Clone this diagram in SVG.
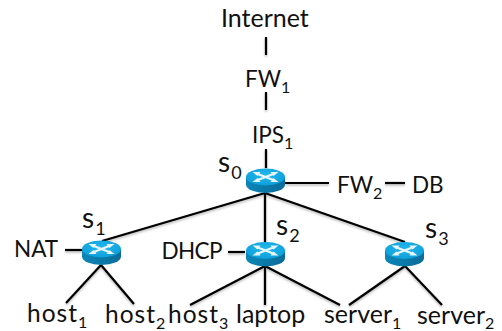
<svg xmlns="http://www.w3.org/2000/svg" width="502" height="331" viewBox="0 0 502 331">
<style>
text{font-family:Lato,"Open Sans",sans-serif;font-size:25px;fill:#111}
.sub{font-size:16px;letter-spacing:0}
.cap{font-size:22.500px}
.dh{font-size:22.500px;letter-spacing:-.6px}
.host{font-size:24.500px;letter-spacing:1px}
.sw{font-size:28px}
.swsub{font-size:18px}
#connectors line{stroke:#000;stroke-width:2.2;stroke-linecap:butt}
</style>
<defs>
<filter id="sh" x="-20%" y="-20%" width="140%" height="140%"><feDropShadow dx="0" dy="1.5" stdDeviation="1" flood-color="#000" flood-opacity="0.3"/></filter>
<linearGradient id="side" x1="0" x2="1" y1="0" y2="0"><stop offset="0" stop-color="#0a86b8"/><stop offset="0.5" stop-color="#0b79a8"/><stop offset="1" stop-color="#0a6c9a"/></linearGradient>
<radialGradient id="top" cx="0.5" cy="0.4" r="0.7"><stop offset="0" stop-color="#22b8ee"/><stop offset="1" stop-color="#0a9ad6"/></radialGradient>
<g id="router">
<path d="M-19.500 -4V3.500A19.500 8.500 0 0 0 19.500 3.500V-4Z" fill="url(#side)"/>
<ellipse cx="0" cy="-4" rx="19.500" ry="8.500" fill="url(#top)"/>
<path d="M-9 -7.500L9 -0.500M9 -7.500L-9 -0.500" stroke="#e8f6fc" stroke-width="2.200" fill="none"/>
<path d="M-13 -9L-5 -9L-8 -5Z M13 1L5 1L8 -3Z M13 -9L5 -9L8 -5Z M-13 1L-5 1L-8 -3Z" fill="#e8f6fc"/>
</g>
</defs>
<g id="connectors" filter="url(#sh)">
<line x1="266" y1="37" x2="266" y2="55"/>
<line x1="266" y1="92" x2="266" y2="110"/>
<line x1="266" y1="149" x2="266" y2="168"/>
<line x1="285" y1="183" x2="329" y2="183"/>
<line x1="385" y1="183" x2="405" y2="183"/>
<line x1="265" y1="193" x2="102" y2="241"/>
<line x1="265" y1="193" x2="265" y2="243"/>
<line x1="265" y1="193" x2="405" y2="242"/>
<line x1="65" y1="250" x2="82" y2="250"/>
<line x1="228" y1="252" x2="245" y2="252"/>
<line x1="101" y1="265" x2="66" y2="303"/>
<line x1="101" y1="265" x2="134" y2="304"/>
<line x1="265" y1="266" x2="190" y2="305"/>
<line x1="265" y1="266" x2="265" y2="305"/>
<line x1="265" y1="266" x2="340" y2="305"/>
<line x1="405" y1="266" x2="349" y2="305"/>
<line x1="405" y1="266" x2="442" y2="305"/>
</g>
<g id="internet"><text x="221" y="27">Internet</text></g>
<g id="fw1"><text x="245" y="87" class="cap">FW<tspan class="sub" dy="6">1</tspan></text></g>
<g id="ips1"><text x="252" y="143" class="cap">IPS<tspan class="sub" dy="6">1</tspan></text></g>
<g id="fw2"><text x="337" y="193" class="cap">FW<tspan class="sub" dy="6">2</tspan></text></g>
<g id="db"><text x="412" y="193" class="cap">DB</text></g>
<g id="s0"><use href="#router" x="265.500" y="181"/><text x="218" y="172" class="sw">s<tspan class="swsub" dx="1" dy="7">0</tspan></text></g>
<g id="s1"><use href="#router" x="101.500" y="253"/><text x="82" y="228" class="sw">s<tspan class="swsub" dx="1" dy="7">1</tspan></text></g>
<g id="s2"><use href="#router" x="265.500" y="254.500"/><text x="276" y="235" class="sw">s<tspan class="swsub" dx="1" dy="7">2</tspan></text></g>
<g id="s3"><use href="#router" x="404.500" y="254.500"/><text x="425" y="238" class="sw">s<tspan class="swsub" dx="1" dy="7">3</tspan></text></g>
<g id="nat"><text x="14" y="257" class="cap">NAT</text></g>
<g id="dhcp"><text x="161.500" y="259" class="dh">DHCP</text></g>
<g id="host1"><text x="27" y="322" class="host">host<tspan class="sub" dy="6">1</tspan></text></g>
<g id="host2"><text x="105" y="323" class="host">host<tspan class="sub" dy="6">2</tspan></text></g>
<g id="host3"><text x="168" y="323" class="host">host<tspan class="sub" dy="6">3</tspan></text></g>
<g id="laptop"><text x="236" y="323">laptop</text></g>
<g id="server1"><text x="324" y="323">server<tspan class="sub" dy="6">1</tspan></text></g>
<g id="server2"><text x="417" y="323.500">server<tspan class="sub" dy="5">2</tspan></text></g>
</svg>
